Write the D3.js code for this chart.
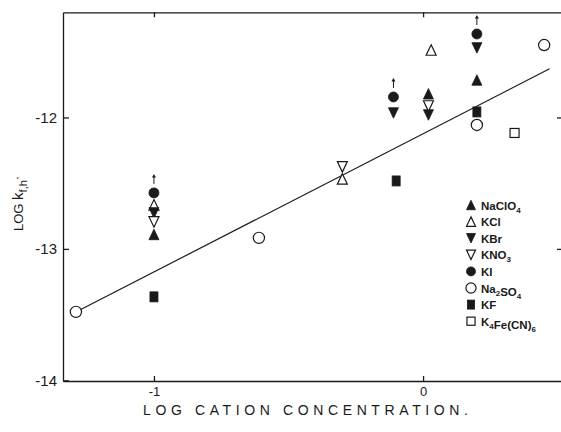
<!DOCTYPE html>
<html>
<head>
<meta charset="utf-8">
<script src="https://cdn.jsdelivr.net/npm/d3@7/dist/d3.min.js"></script>
<style>
  html, body { margin: 0; padding: 0; background: #fff; }
  svg { display: block; }
  text { font-family: "Liberation Sans", Arial, sans-serif; fill: #1a1a1a; }
</style>
</head>
<body>
<svg id="chart" width="561" height="432"></svg>
<script>
// Electrolytes, in legend order
const salts = ["NaClO4", "KCl", "KBr", "KNO3", "KI", "Na2SO4", "KF", "K4Fe(CN)6"];

// log cation concentration and log k(f,h) for each electrolyte
const naclo4X = [-1, 0.02, 0.2];
const naclo4Y = [-12.89, -11.82, -11.715];
const kclX = [-1, -0.3, 0.03];
const kclY = [-12.665, -12.468, -11.487];
const kbrX = [-1, -0.11, 0.02, 0.2];
const kbrY = [-12.726, -11.966, -11.981, -11.471];
const kno3X = [-1, -0.3, 0.02];
const kno3Y = [-12.795, -12.376, -11.913];
const kiX = [-1, -0.11, 0.2];          // lower bounds (marked with arrows)
const kiY = [-12.574, -11.844, -11.365];
const na2so4X = [-1.29, -0.61, 0.2, 0.45];
const na2so4Y = [-13.479, -12.916, -12.057, -11.449];
const kfX = [-1, -0.1, 0.2];
const kfY = [-13.365, -12.483, -11.958];
const k4feX = [0.34];
const k4feY = [-12.118];

// Straight line drawn through the data
const fitX = [-1.29, 0.47];
const fitY = [-13.48, -11.63];

// Axis ticks
const xTicks = [-1, 0];
const xTickLabels = ["-1", "0"];
const yTicks = [-14, -13, -12];
const yTickLabels = ["-14", "-13", "-12"];

const seriesX = [naclo4X, kclX, kbrX, kno3X, kiX, na2so4X, kfX, k4feX];
const seriesY = [naclo4Y, kclY, kbrY, kno3Y, kiY, na2so4Y, kfY, k4feY];

const ink = "#1a1a1a";
const svg = d3.select("#chart");

const x = d3.scaleLinear().domain([-1.338, 0.52]).range([63, 563]);
const y = d3.scaleLinear().domain([-14.005, -11.2]).range([381, 12.3]);

// Marker shapes: [shape, filled]
const markerStyle = {
  "NaClO4": ["up", true],
  "KCl": ["up", false],
  "KBr": ["down", true],
  "KNO3": ["down", false],
  "KI": ["circle", true],
  "Na2SO4": ["circle", false],
  "KF": ["rect", true],
  "K4Fe(CN)6": ["square", false]
};

function drawMarker(g, salt, cx, cy, s) {
  const [shape, filled] = markerStyle[salt];
  const fill = filled ? ink : "#fff";
  const sw = filled ? 0.8 : 1.2;
  if (shape === "up" || shape === "down") {
    const w = 10 * s, h = 10.5 * s;
    const d = shape === "up"
      ? `M${cx},${cy - h / 2}L${cx + w / 2},${cy + h / 2}L${cx - w / 2},${cy + h / 2}Z`
      : `M${cx},${cy + h / 2}L${cx + w / 2},${cy - h / 2}L${cx - w / 2},${cy - h / 2}Z`;
    g.append("path").attr("d", d).attr("fill", fill).attr("stroke", ink)
      .attr("stroke-width", sw).attr("stroke-linejoin", "miter");
  } else if (shape === "circle") {
    const r = (filled ? 5 : 5.6) * s;
    g.append("circle").attr("cx", cx).attr("cy", cy).attr("r", r)
      .attr("fill", fill).attr("stroke", ink).attr("stroke-width", sw);
  } else if (shape === "rect") {
    const w = 8 * s, h = 10 * s;
    g.append("rect").attr("x", cx - w / 2).attr("y", cy - h / 2)
      .attr("width", w).attr("height", h).attr("fill", fill)
      .attr("stroke", ink).attr("stroke-width", sw);
  } else {
    const w = 9 * s;
    g.append("rect").attr("x", cx - w / 2).attr("y", cy - w / 2)
      .attr("width", w).attr("height", w).attr("fill", fill)
      .attr("stroke", ink).attr("stroke-width", sw);
  }
}

// Frame: left and bottom axes with labels, top and right with inward ticks only
const axisFont = g => g.selectAll("text")
  .style("font-family", "'Liberation Sans', Arial, sans-serif").attr("fill", ink);

svg.append("g")
  .attr("transform", `translate(0,${y.range()[0]})`)
  .call(d3.axisBottom(x).tickValues(xTicks)
    .tickFormat((d, i) => xTickLabels[i]).tickSize(-5).tickSizeOuter(0).tickPadding(6))
  .call(axisFont)
  .call(g => g.selectAll("text").style("font-size", "13px"))
  .call(g => g.selectAll("path,line").attr("stroke", ink).attr("stroke-width", 1.3));

svg.append("g")
  .attr("transform", `translate(${x.range()[0]},0)`)
  .call(d3.axisLeft(y).tickValues(yTicks)
    .tickFormat((d, i) => yTickLabels[i]).tickSize(-6).tickSizeOuter(0).tickPadding(6))
  .call(axisFont)
  .call(g => g.selectAll("text").style("font-size", "15px"))
  .call(g => g.selectAll("path,line").attr("stroke", ink).attr("stroke-width", 1.3));

svg.append("g")
  .attr("transform", `translate(0,${y.range()[1]})`)
  .call(d3.axisTop(x).tickValues(xTicks).tickFormat("").tickSize(-5).tickSizeOuter(0))
  .call(g => g.selectAll("path,line").attr("stroke", ink).attr("stroke-width", 1.3));

svg.append("g")
  .attr("transform", `translate(${x.range()[1]},0)`)
  .call(d3.axisRight(y).tickValues([-13, -12]).tickFormat("").tickSize(-6).tickSizeOuter(0))
  .call(g => g.selectAll("path,line").attr("stroke", ink).attr("stroke-width", 1.3));

// Axis titles
svg.append("text")
  .attr("x", 143).attr("y", 415)
  .attr("textLength", 325).attr("lengthAdjust", "spacing")
  .style("font-size", "14px")
  .text("LOG CATION  CONCENTRATION.");

const yTitle = svg.append("text")
  .attr("transform", "translate(23,231) rotate(-90)")
  .style("font-size", "13px");
yTitle.append("tspan").text("LOG ");
yTitle.append("tspan").style("font-size", "15px").text(" k");
yTitle.append("tspan").attr("dy", 4).style("font-size", "11px").text("f,h");
yTitle.append("tspan").attr("dy", -6).style("font-size", "13px").text("·");

// Fitted line
svg.append("path")
  .datum(fitX.map((v, i) => [v, fitY[i]]))
  .attr("fill", "none").attr("stroke", ink).attr("stroke-width", 1.2)
  .attr("d", d3.line().x(d => x(d[0])).y(d => y(d[1])));

// Data points
const pts = svg.append("g");
salts.forEach((salt, si) => {
  seriesX[si].forEach((v, i) => {
    drawMarker(pts, salt, x(v), y(seriesY[si][i]), 1);
  });
});

// Arrows above the KI points (values are lower limits)
const arrows = svg.append("g").attr("stroke", ink).attr("fill", ink);
kiX.forEach((v, i) => {
  const cx = x(v), cy = y(kiY[i]);
  arrows.append("line").attr("x1", cx).attr("x2", cx)
    .attr("y1", cy - 9).attr("y2", cy - 16).attr("stroke-width", 1);
  arrows.append("path")
    .attr("d", `M${cx},${cy - 19}L${cx + 2},${cy - 15.5}L${cx - 2},${cy - 15.5}Z`)
    .attr("stroke", "none");
});

// Legend
const legend = svg.append("g");
salts.forEach((salt, i) => {
  const ly = 205 + i * 16.6;
  drawMarker(legend, salt, 471, ly, 0.9);
  const t = legend.append("text").attr("x", 481).attr("y", ly + 4.5)
    .style("font-size", "11.5px").style("font-weight", "bold");
  // digits are chemical subscripts
  salt.split(/(\d+)/).filter(s => s.length).forEach(part => {
    if (/^\d+$/.test(part)) {
      t.append("tspan").attr("dy", 3).style("font-size", "8px").text(part);
      t.append("tspan").attr("dy", -3).text("");
    } else {
      t.append("tspan").text(part);
    }
  });
});
</script>
</body>
</html>
